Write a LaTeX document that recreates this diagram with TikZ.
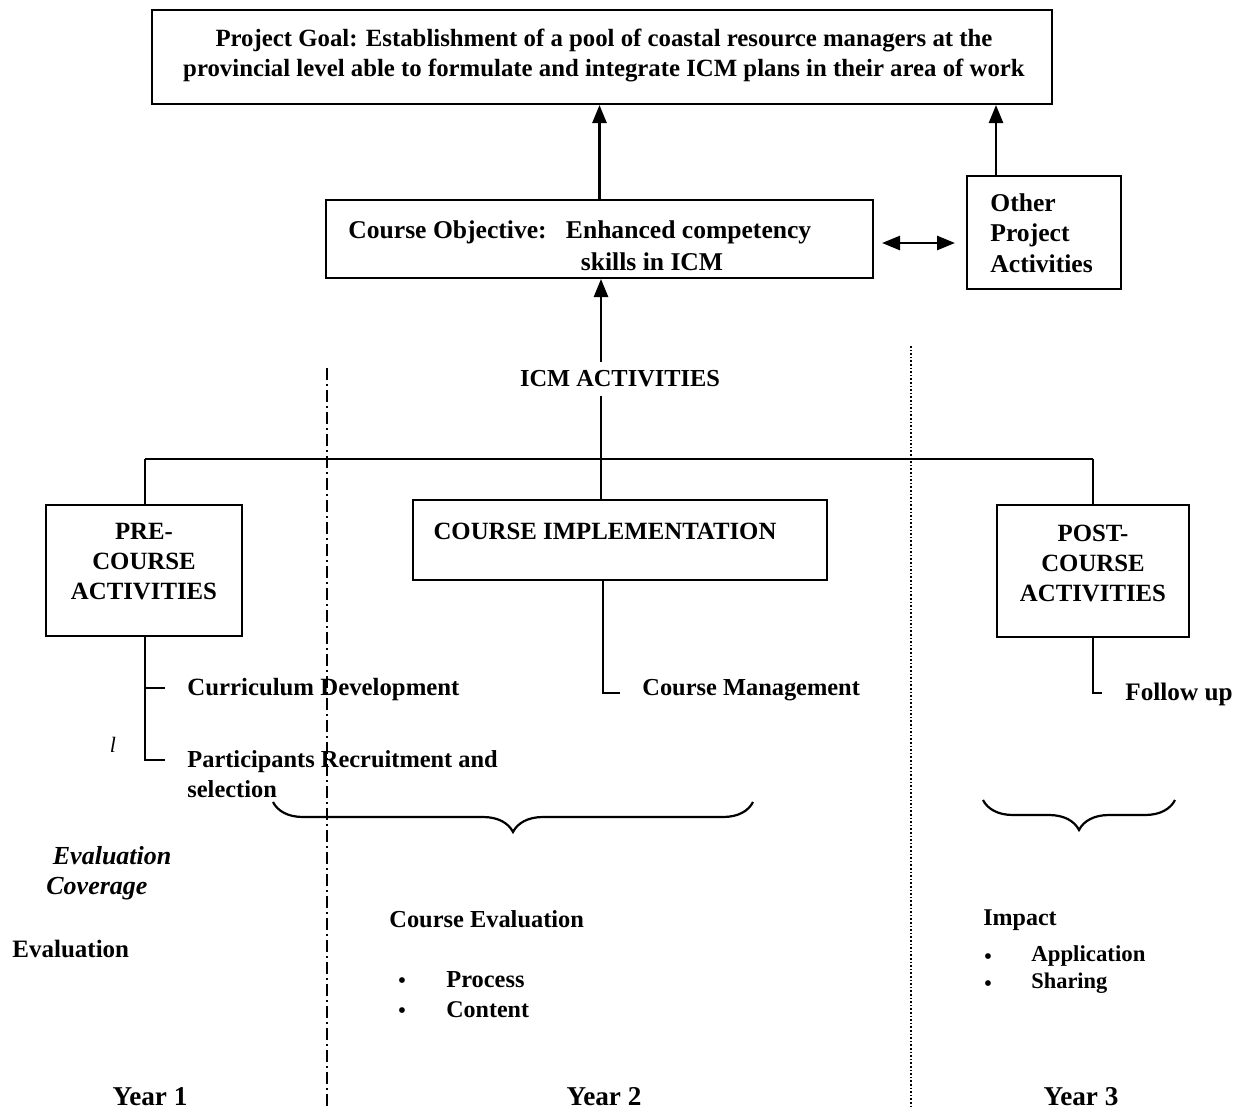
\documentclass[tikz,border=0pt]{standalone}
\usepackage{fontspec}
\setmainfont{Liberation Serif}
\usetikzlibrary{arrows.meta,decorations.pathreplacing}
\begin{document}
\begin{tikzpicture}[x=0.5pt,y=-0.5pt,
  font=\fontsize{12.2}{15}\selectfont\bfseries,
  box/.style={draw,line width=1pt,inner sep=0pt},
  ln/.style={line width=1.3pt},
  arr/.style={line width=1.3pt,-{Triangle[width=7pt,length=9pt]}},
  darr/.style={line width=1.3pt,{Triangle[width=7pt,length=9pt]}-{Triangle[width=7pt,length=9pt]}},
  txt/.style={inner sep=0pt,anchor=west,align=left},
  ctxt/.style={inner sep=0pt,align=center},
  bul/.style={inner sep=0pt,font=\fontsize{12}{12}\selectfont},
  brc/.style={line width=1.1pt,decorate,decoration={brace,mirror,amplitude=15pt}}]
\useasboundingbox (0,0) rectangle (1248,1109);
% boxes
\node[box,minimum width=450pt,minimum height=47pt] (goal) at (602,57) {};
\node[ctxt,font=\fontsize{12.4}{15}\selectfont\bfseries] (goalt) at (604,56) {Project Goal: Establishment of a pool of coastal resource managers at the\\provincial level able to formulate and integrate ICM plans in their area of work};
\node[box,minimum width=273.5pt,minimum height=39pt] (obj) at (599.5,239) {};
\node[txt,font=\fontsize{12.8}{15}\selectfont\bfseries] (objt1) at (348,232) {Course Objective:\ \ \ Enhanced competency};
\node[ctxt,font=\fontsize{12.8}{15}\selectfont\bfseries] (objt2) at (652,262) {skills in ICM};
\node[box,minimum width=77pt,minimum height=56.5pt] (other) at (1044,232) {};
\node[txt,font=\fontsize{12.8}{15.3}\selectfont\bfseries] (othert) at (990,233) {Other\\Project\\Activities};
\node[ctxt] (icm) at (620,379) {ICM ACTIVITIES};
\node[box,minimum width=98pt,minimum height=65.5pt] (pre) at (144,570.5) {};
\node[ctxt,font=\fontsize{12.4}{15}\selectfont\bfseries] (pret) at (144,562) {PRE-\\COURSE\\ACTIVITIES};
\node[box,minimum width=207pt,minimum height=40pt] (impl) at (620,540) {};
\node[ctxt,font=\fontsize{12.4}{15}\selectfont\bfseries] (implt) at (605,531) {COURSE IMPLEMENTATION};
\node[box,minimum width=96pt,minimum height=66pt] (post) at (1093,571) {};
\node[ctxt,font=\fontsize{12.4}{15}\selectfont\bfseries] (postt) at (1093,563) {POST-\\COURSE\\ACTIVITIES};
% arrows top
\draw[arr] (obj.north) -- (obj.north |- goal.south);
\coordinate (oa) at (996,176);
\draw[arr] (oa) -- (oa |- goal.south);
\coordinate (da) at (882,243);
\coordinate (db) at (955,243);
\draw[darr] (da) -- (db);
\coordinate (ia) at (601,362);
\coordinate (ib) at (601,396);
\draw[arr] (ia) -- (ia |- obj.south);
\draw[ln] (ib) -- (ib |- impl.north);
% horizontal bar
\coordinate (hl) at (145,459);
\coordinate (hr) at (1093,459);
\draw[ln] (hl) -- (hr);
\draw[ln] (hl) -- (hl |- pre.north);
\draw[ln] (hr) -- (post.north);
% pre-course items
\node[txt,font=\fontsize{12.4}{15}\selectfont\bfseries] (cd) at (187,690) {Curriculum Development};
\node[txt,font=\fontsize{12.2}{15.3}\selectfont\bfseries] (pr) at (187,774) {Participants Recruitment and\\selection};
\coordinate (p1) at (145,688);
\coordinate (p2) at (145,760);
\draw[ln] (pre.south -| p1) -- (p2) -- ++(20,0);
\draw[ln] (p1) -- ++(20,0);
\node[inner sep=0pt,font=\fontsize{11}{13}\selectfont\itshape] (mk) at (113,745) {l};
% course implementation item
\node[txt] (cm) at (642,690) {Course Management};
\coordinate (c1) at (603,693);
\draw[ln] (impl.south -| c1) -- (c1) -- ++(17,0);
% post-course item
\node[txt,font=\fontsize{12.6}{15}\selectfont\bfseries] (fu) at (1125,694) {Follow up};
\coordinate (f1) at (1093,693);
\draw[ln] (post.south -| f1) -- (f1) -- ++(9,0);
% braces
\coordinate (b1l) at (273,802);
\coordinate (b1r) at (753,802);
\draw[brc] (b1l) -- (b1r);
\coordinate (b2l) at (983,800);
\coordinate (b2r) at (1175,800);
\draw[brc] (b2l) -- (b2r);
% evaluation texts
\node[txt,font=\fontsize{13}{15}\selectfont\bfseries\itshape] (evc) at (46,873) {\ Evaluation\\Coverage};
\node[txt,font=\fontsize{12.5}{15}\selectfont\bfseries] (ev) at (12,949) {Evaluation};
\node[txt] (ce) at (389,919) {Course Evaluation};
\node[bul] (ce1) at (402,983) {\textbullet};
\node[txt] (ce1t) at (446,980) {Process};
\node[bul] (ce2) at (402,1013) {\textbullet};
\node[txt,font=\fontsize{12}{15}\selectfont\bfseries] (ce2t) at (446,1010) {Content};
\node[txt,font=\fontsize{12}{15}\selectfont\bfseries] (im) at (983,920) {Impact};
\node[bul] (im1) at (988,959) {\textbullet};
\node[txt,font=\fontsize{11.4}{15}\selectfont\bfseries] (im1t) at (1031,956) {Application};
\node[bul] (im2) at (988,986) {\textbullet};
\node[txt,font=\fontsize{11.2}{15}\selectfont\bfseries] (im2t) at (1031,983) {Sharing};
% year labels
\node[ctxt,font=\fontsize{13.6}{15}\selectfont\bfseries] (y1) at (150,1097) {Year 1};
\node[ctxt,font=\fontsize{13.6}{15}\selectfont\bfseries] (y2) at (604,1097) {Year 2};
\node[ctxt,font=\fontsize{13.6}{15}\selectfont\bfseries] (y3) at (1081,1097) {Year 3};
% dividers
\coordinate (d1t) at (327,368);
\coordinate (d1b) at (327,1109);
\draw[line width=0.6pt,dash pattern=on 6pt off 2pt on 1pt off 2pt] (d1t) -- (d1b);
\coordinate (d2t) at (911,346);
\coordinate (d2b) at (911,1109);
\draw[line width=0.8pt,densely dotted] (d2t) -- (d2b);
\end{tikzpicture}
\end{document}
